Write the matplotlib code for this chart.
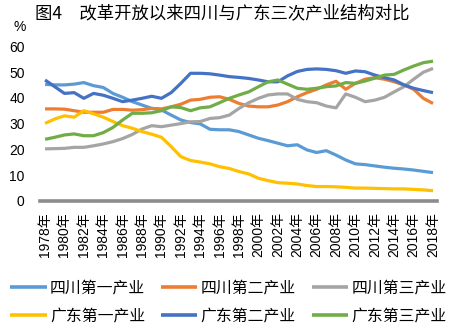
import matplotlib
matplotlib.use("Agg")
import matplotlib.pyplot as plt

plt.rcParams['font.family'] = ['Liberation Sans', 'Noto Sans CJK SC', 'DejaVu Sans']

years = list(range(1978, 2019))

sc_primary = [45.2, 45.0, 45.0, 45.3, 45.9, 44.7, 44.0, 41.7, 40.2, 38.5,
              37.2, 35.9, 35.3, 33.3, 31.4, 30.4, 29.9, 27.8, 27.6, 27.6,
              26.9, 25.6, 24.3, 23.4, 22.4, 21.4, 21.8, 19.8, 18.8, 19.5,
              17.8, 15.9, 14.4, 14.1, 13.6, 13.1, 12.7, 12.4, 12.0, 11.5, 11.0]
sc_secondary = [35.7, 35.7, 35.6, 35.0, 34.4, 34.4, 34.4, 35.5, 35.5, 35.2,
                35.4, 35.9, 35.7, 36.5, 37.5, 39.1, 39.4, 40.2, 40.4, 39.4,
                37.8, 36.8, 36.5, 36.5, 37.2, 38.5, 40.4, 42.0, 43.3, 45.0,
                46.4, 43.3, 45.6, 47.2, 47.8, 47.2, 46.2, 45.0, 43.3, 39.8, 37.8]
sc_tertiary = [20.2, 20.3, 20.4, 20.8, 20.8, 21.4, 22.1, 23.0, 24.2, 25.8,
               27.9, 29.2, 28.8, 29.4, 30.0, 30.7, 30.8, 32.0, 32.3, 33.3,
               35.9, 38.1, 39.8, 41.1, 41.5, 41.5, 39.4, 38.5, 38.1, 36.8,
               36.1, 41.5, 40.2, 38.5, 39.1, 40.2, 42.3, 44.3, 47.2, 49.9, 51.4]
gd_primary = [30.1, 31.8, 33.0, 32.5, 35.0, 33.8, 32.5, 30.8, 29.2, 28.2,
              26.9, 25.9, 24.7, 21.1, 17.2, 15.7, 15.1, 14.4, 13.3, 12.6,
              11.4, 10.5, 8.8, 7.9, 7.1, 6.9, 6.6, 6.0, 5.6, 5.6,
              5.5, 5.3, 5.0, 5.0, 4.9, 4.8, 4.7, 4.7, 4.5, 4.3, 4.0]
gd_secondary = [46.9, 44.3, 41.7, 42.0, 39.8, 41.7, 41.0, 39.8, 38.5, 39.1,
                39.8, 40.6, 39.8, 42.0, 45.6, 49.5, 49.5, 49.3, 48.8, 48.2,
                47.9, 47.5, 46.9, 46.2, 46.2, 48.5, 50.2, 51.0, 51.2, 51.0,
                50.5, 49.5, 50.4, 50.1, 48.8, 47.8, 46.9, 45.0, 43.7, 42.8, 42.0]
gd_tertiary = [23.9, 24.7, 25.6, 26.0, 25.3, 25.3, 26.5, 28.5, 31.4, 34.0,
               34.0, 34.2, 35.0, 36.5, 36.2, 35.0, 36.1, 36.5, 38.1, 39.8,
               41.1, 42.3, 44.3, 46.2, 46.9, 45.3, 43.7, 43.3, 43.7, 44.3,
               44.6, 45.9, 45.6, 46.5, 47.6, 48.8, 49.1, 50.8, 52.3, 53.6, 54.2]

series = [
    ("四川第一产业", sc_primary, "#5B9BD5"),
    ("四川第二产业", sc_secondary, "#ED7D31"),
    ("四川第三产业", sc_tertiary, "#A5A5A5"),
    ("广东第一产业", gd_primary, "#FFC000"),
    ("广东第二产业", gd_secondary, "#4472C4"),
    ("广东第三产业", gd_tertiary, "#70AD47"),
]

tick_years = list(range(1978, 2019, 2))
tick_labels = [f"{y}年" for y in tick_years]

W, H = 457, 330
fig = plt.figure(figsize=(W / 100, H / 100), dpi=100)
ax = fig.add_axes([40 / W, (H - 201) / H, (437 - 40) / W, (201 - 46.2) / H])

handles = []
for name, vals, col in series:
    h, = ax.plot(years, vals, color=col, lw=2.3, label=name, solid_capstyle='butt')
    handles.append(h)

ax.set_xlim(1977.48, 2018.41)
ax.set_ylim(0, 60)
ax.set_yticks([0, 10, 20, 30, 40, 50, 60])
ax.set_xticks(tick_years)
ax.set_xticklabels(tick_labels, rotation=90)
ax.tick_params(axis='both', length=0, labelsize=10, colors='#000000')
ax.tick_params(axis='y', pad=11)
ax.tick_params(axis='x', pad=8)
for s in ['top', 'right', 'left']:
    ax.spines[s].set_visible(False)
ax.spines['bottom'].set_color('#8C8C8C')
ax.spines['bottom'].set_linewidth(2.6)

fig.text(35 / W, 1 - 13 / H, "图4　改革开放以来四川与广东三次产业结构对比",
         fontsize=12.5, ha='left', va='center',
         family=['Noto Sans CJK SC', 'DejaVu Sans'])
fig.text(20 / W, 1 - 27 / H, "%", fontsize=10, ha='center', va='center')

order = [0, 3, 1, 4, 2, 5]
leg = fig.legend([handles[i] for i in order], [series[i][0] for i in order],
                 loc='center', bbox_to_anchor=(0.5, 1 - 302 / H), ncol=3,
                 frameon=False, handlelength=2.3,
                 handletextpad=0.2, columnspacing=1.0, labelspacing=0.75,
                 borderaxespad=0, borderpad=0,
                 prop={'family': ['Noto Sans CJK SC', 'DejaVu Sans'], 'size': 11.4})
for l in leg.get_lines():
    l.set_linewidth(2.6)

fig.savefig("out.png", dpi=100)
